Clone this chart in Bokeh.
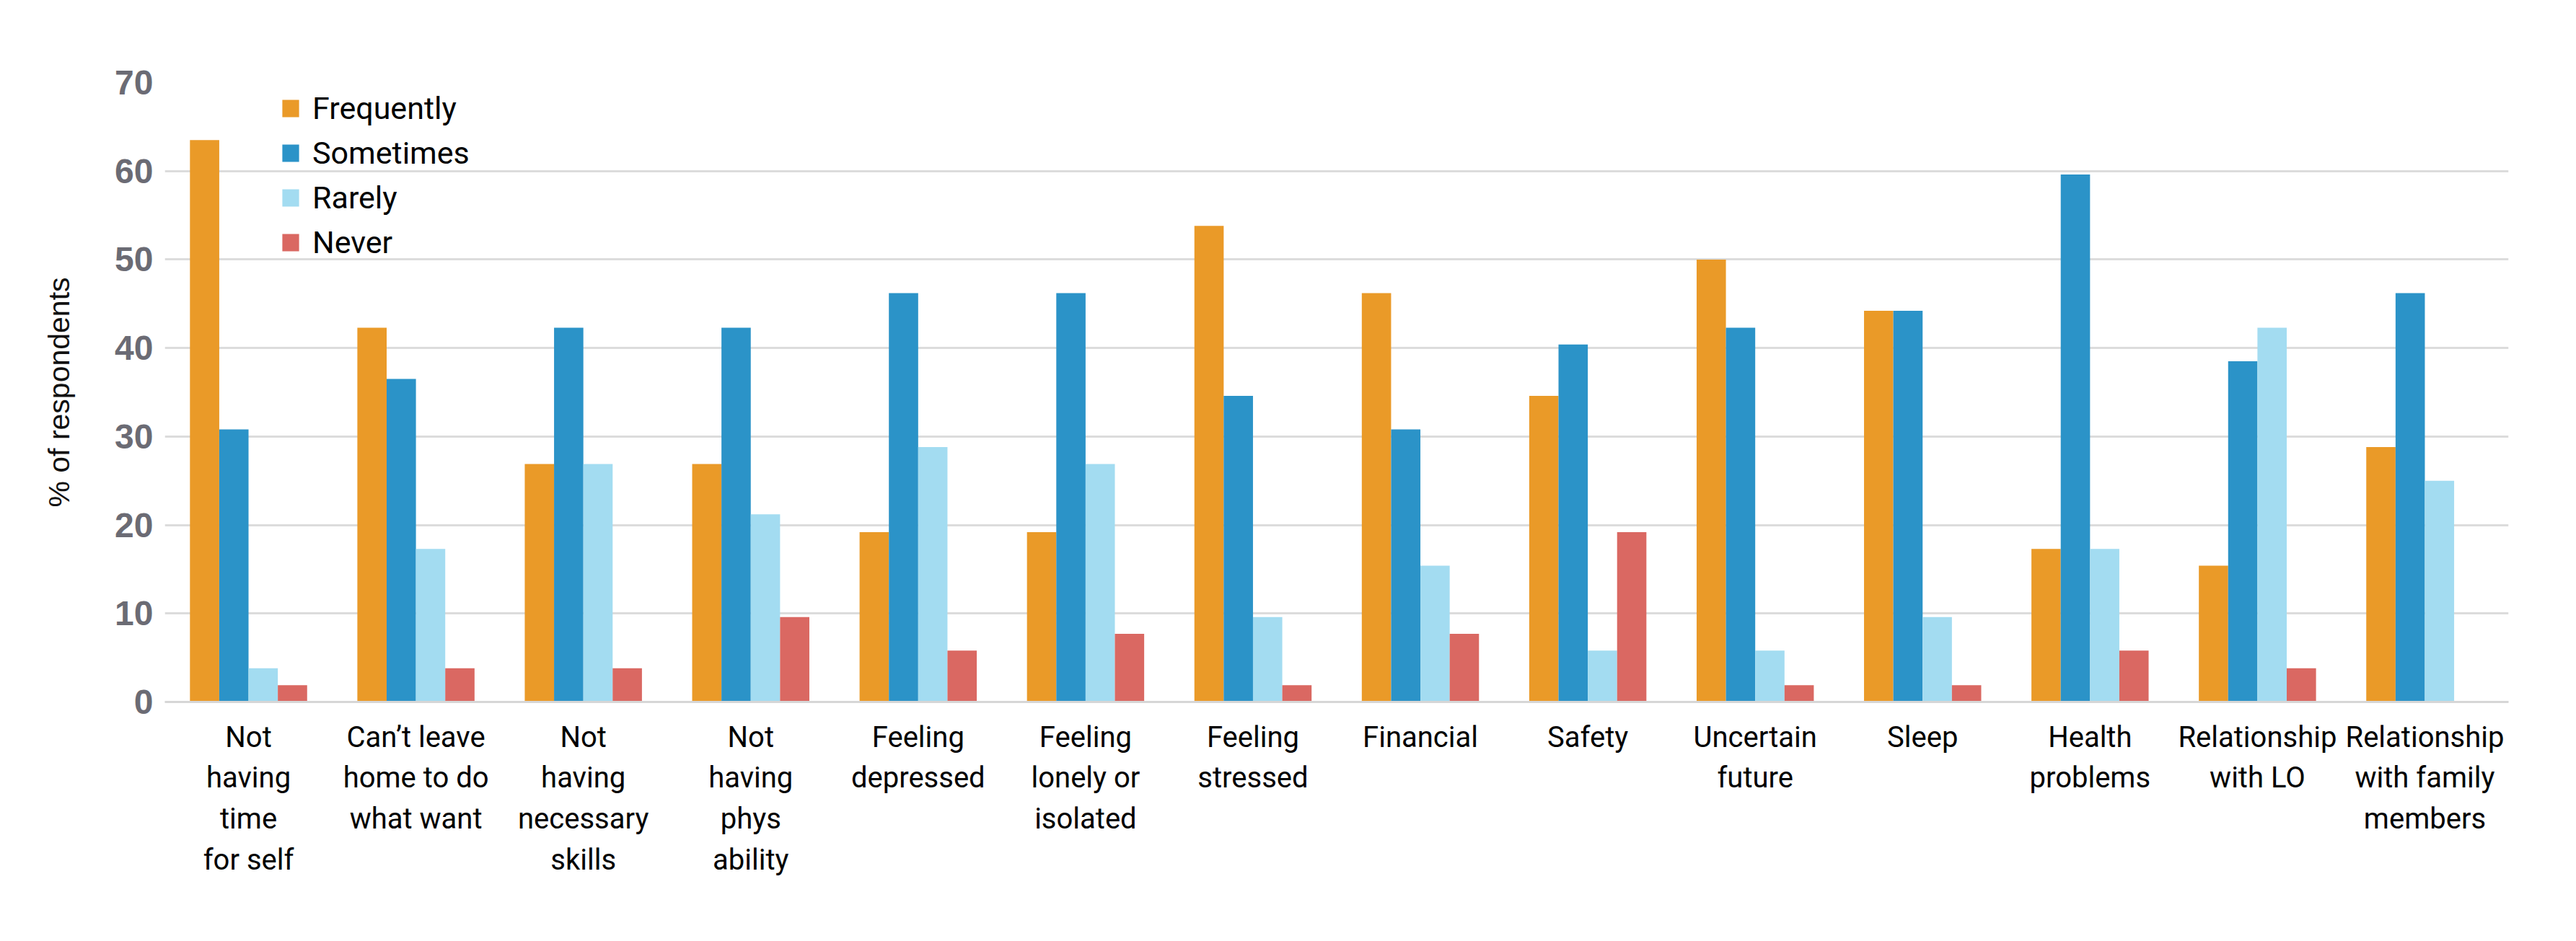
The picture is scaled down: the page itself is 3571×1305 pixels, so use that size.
from bokeh.plotting import figure
from bokeh.models import ColumnDataSource, FixedTicker, Range1d, FactorRange, Legend, LegendItem
from bokeh.transform import dodge
from bokeh.embed import file_html
from bokeh.resources import INLINE

categories = [
    "Not\nhaving\ntime\nfor self",
    "Can\u2019t leave\nhome to do\nwhat want",
    "Not\nhaving\nnecessary\nskills",
    "Not\nhaving\nphys\nability",
    "Feeling\ndepressed",
    "Feeling\nlonely or\nisolated",
    "Feeling\nstressed",
    "Financial",
    "Safety",
    "Uncertain\nfuture",
    "Sleep",
    "Health\nproblems",
    "Relationship\nwith LO",
    "Relationship\nwith family\nmembers",
]
series_names = ["Frequently", "Sometimes", "Rarely", "Never"]
frequently = [63.5, 42.3, 26.9, 26.9, 19.2, 19.2, 53.8, 46.2, 34.6, 50.0, 44.2, 17.3, 15.4, 28.8]
sometimes = [30.8, 36.5, 42.3, 42.3, 46.2, 46.2, 34.6, 30.8, 40.4, 42.3, 44.2, 59.6, 38.5, 46.2]
rarely = [3.8, 17.3, 26.9, 21.2, 28.8, 26.9, 9.6, 15.4, 5.8, 5.8, 9.6, 17.3, 42.3, 25.0]
never = [1.9, 3.8, 3.8, 9.6, 5.8, 7.7, 1.9, 7.7, 19.2, 1.9, 1.9, 5.8, 3.8, 0.0]
y_ticks = [0, 10, 20, 30, 40, 50, 60, 70]

colors = ["#EA9A28", "#2B93C8", "#A3DCF1", "#DA6862"]

source = ColumnDataSource(dict(cat=categories, Frequently=frequently, Sometimes=sometimes,
                               Rarely=rarely, Never=never))

p = figure(width=3571, height=1305, x_range=FactorRange(*categories), y_range=Range1d(0, 70),
           output_backend="svg", toolbar_location=None,
           min_border_left=228, min_border_right=94, min_border_top=114, min_border_bottom=332)
p.outline_line_color = None
p.background_fill_color = "white"
p.border_fill_color = "white"

bw = 0.175
offsets = [-1.5 * bw, -0.5 * bw, 0.5 * bw, 1.5 * bw]
renderers = []
for name, col, off in zip(series_names, colors, offsets):
    r = p.vbar(x=dodge("cat", off, range=p.x_range), top=name, width=bw, bottom=0,
               source=source, fill_color=col, line_color=None)
    renderers.append(r)

# y axis
p.yaxis.ticker = FixedTicker(ticks=y_ticks)
p.yaxis.major_label_text_font = "Liberation Sans"
p.yaxis.major_label_text_font_style = "bold"
p.yaxis.major_label_text_font_size = "48px"
p.yaxis.major_label_text_color = "#6B6B74"
p.yaxis.major_tick_line_color = None
p.yaxis.minor_tick_line_color = None
p.yaxis.major_tick_out = 0
p.yaxis.major_tick_in = 0
p.yaxis.axis_line_color = None
p.yaxis.major_label_standoff = 16
p.yaxis.axis_label = "% of respondents"
p.yaxis.axis_label_text_font = "Liberation Sans"
p.yaxis.axis_label_text_font_style = "normal"
p.yaxis.axis_label_text_font_size = "41px"
p.yaxis.axis_label_text_color = "#111111"
p.yaxis.axis_label_standoff = 51

# x axis
p.xaxis.major_label_text_font = "Roboto"
p.xaxis.major_label_text_font_size = "40px"
p.xaxis.major_label_text_line_height = 1.21
p.xaxis.major_label_text_color = "#000000"
p.xaxis.major_tick_line_color = None
p.xaxis.major_tick_out = 0
p.xaxis.major_tick_in = 0
p.xaxis.axis_line_color = "#D6D6D6"
p.xaxis.axis_line_width = 3
p.xaxis.major_label_standoff = 25

p.xgrid.grid_line_color = None
p.ygrid.grid_line_color = "#DCDCDC"
p.ygrid.grid_line_width = 3

legend = Legend(items=[LegendItem(label=n, renderers=[r]) for n, r in zip(series_names, renderers)],
                location=(160, 606))
legend.glyph_width = 29
legend.glyph_height = 30
legend.label_height = 62
legend.label_standoff = 16
legend.spacing = 0
legend.padding = 0
legend.margin = 0
legend.border_line_color = None
legend.background_fill_alpha = 0
legend.label_text_font = "Roboto"
legend.label_text_font_size = "43px"
legend.label_text_color = "#000000"
p.add_layout(legend)

open("out.html", "w").write(file_html(p, INLINE))
